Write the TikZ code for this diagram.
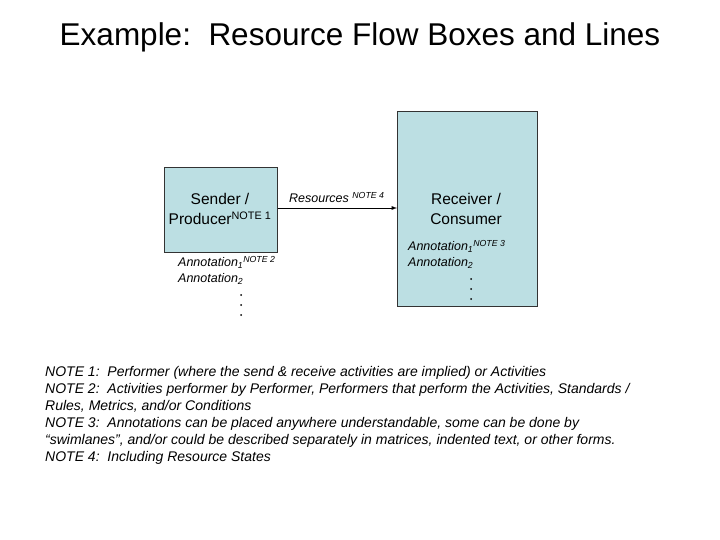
\documentclass[tikz,border=0pt]{standalone}
\usepackage{fontspec}
\setmainfont{Liberation Sans}
\definecolor{boxfill}{HTML}{BCDFE3}
\begin{document}
\begin{tikzpicture}[x=1pt,y=-1pt,
  actbox/.style={draw=black!80,fill=boxfill,line width=0.8pt},
  ann/.style={font=\fontsize{12.5}{16}\selectfont\itshape,align=left,anchor=north west,inner sep=0pt}]
\useasboundingbox (0,0) rectangle (720,540);
\node[anchor=base,inner sep=0pt,font=\fontsize{31.5}{36}\selectfont] (title) at (360,46) {Example:\ \ Resource Flow Boxes and Lines};
\node[actbox,minimum width=113pt,minimum height=85pt,anchor=north west] (snd) at (164,167) {};
\node[align=center,font=\fontsize{15.5}{20}\selectfont] (sndt) at (220,209) {Sender /\\Producer\textsuperscript{NOTE 1}};
\node[actbox,minimum width=140pt,minimum height=195pt,anchor=north west] (rcv) at (397,111) {};
\node[align=center,font=\fontsize{15.5}{20}\selectfont] (rcvt) at (466,209) {Receiver /\\Consumer};
\draw[-latex,line width=0.9pt] (snd.east |- 0,208) coordinate (a1) -- (rcv.west |- 0,208) coordinate (a2);
\node[ann,anchor=base west] (res) at (289,203) {Resources \textsuperscript{NOTE 4}};
\node[ann] (ann1) at (178,256) {Annotation\textsubscript{1}\textsuperscript{NOTE 2}\\Annotation\textsubscript{2}};
\node[ann] (ann2) at (408,240) {Annotation\textsubscript{1}\textsuperscript{NOTE 3}\\Annotation\textsubscript{2}};
\foreach \y in {295,305,315} \fill (241,\y) circle (1pt);
\foreach \y in {279,289,299} \fill (471,\y) circle (1pt);
\node[ann,font=\fontsize{14}{17}\selectfont\itshape] (notes) at (45,366) {NOTE 1:\ \ Performer (where the send \& receive activities are implied) or Activities\\
NOTE 2:\ \ Activities performer by Performer, Performers that perform the Activities, Standards /\\
Rules, Metrics, and/or Conditions\\
NOTE 3:\ \ Annotations can be placed anywhere understandable, some can be done by\\
``swimlanes'', and/or could be described separately in matrices, indented text, or other forms.\\
NOTE 4:\ \ Including Resource States};
\end{tikzpicture}
\end{document}
